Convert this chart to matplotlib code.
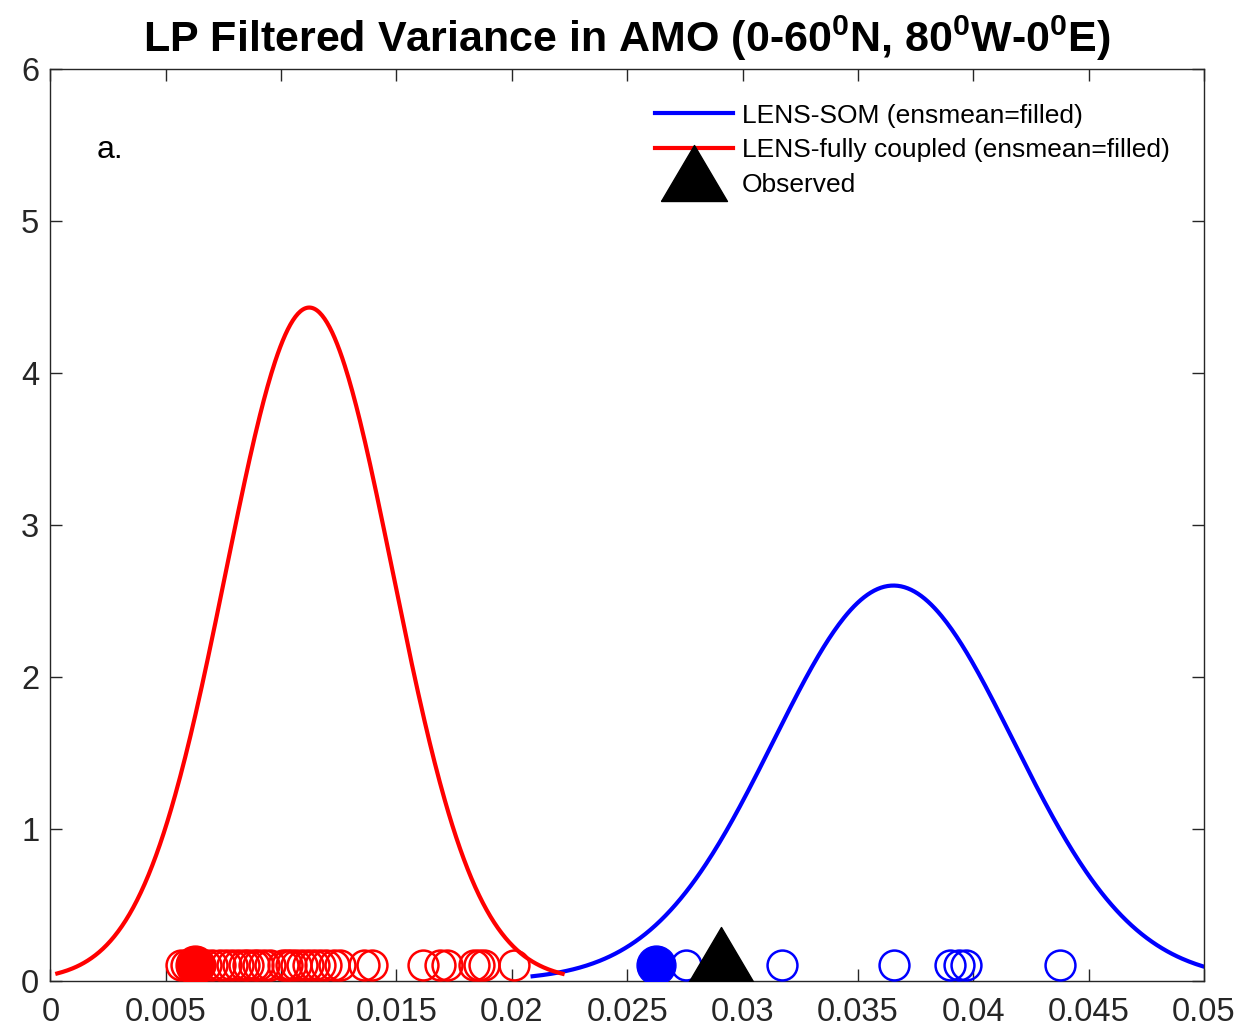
import numpy as np
import matplotlib
matplotlib.use("Agg")
import matplotlib.pyplot as plt
from matplotlib.lines import Line2D
from matplotlib.ticker import FormatStrFormatter

plt.rcParams['font.family'] = ['Liberation Sans', 'DejaVu Sans']
plt.rcParams['mathtext.fontset'] = 'custom'
plt.rcParams['mathtext.rm'] = 'Liberation Sans:bold'
plt.rcParams['mathtext.bf'] = 'Liberation Sans:bold'

# LP filtered AMO variance, one value per ensemble member
lens_cpl = [0.00566, 0.00588, 0.00648, 0.00674, 0.00700, 0.00735, 0.00761,
            0.00787, 0.00813, 0.00839, 0.00857, 0.00883, 0.00900, 0.00926,
            0.00952, 0.01008, 0.01026, 0.01043, 0.01065, 0.01091, 0.01117,
            0.01143, 0.01169, 0.01195, 0.01229, 0.01255, 0.01359, 0.01394,
            0.01615, 0.01689, 0.01719, 0.01836, 0.01858, 0.01880, 0.02010]
lens_cpl_mean = 0.00627
lens_som = [0.02753, 0.03170, 0.03655, 0.03900, 0.03937, 0.03970, 0.04374]
lens_som_mean = 0.02626
obs = 0.02906

# normal fits: centre, width, height and x-range of each curve
cpl_mu, cpl_sd, cpl_pk, cpl_rng = 0.01122, 0.00362, 4.43, (0.0003, 0.0222)
som_mu, som_sd, som_pk, som_rng = 0.03654, 0.00520, 2.60, (0.0209, 0.05)

y_dots = 0.1
dark = '#262626'


def fit_curve(mu, sd, pk, rng):
    x = np.linspace(rng[0], rng[1], 400)
    return x, pk * np.exp(-0.5 * ((x - mu) / sd) ** 2)


# triangle with its reference point a bit below the middle
tri = [(-33, -18), (33, -18), (0, 38), (-33, -18)]

fig = plt.figure(figsize=(12.41, 10.29), dpi=100)
ax = fig.add_axes([0.0406, 0.0471, 0.9296, 0.8858])

xs, ys = fit_curve(som_mu, som_sd, som_pk, som_rng)
ax.plot(xs, ys, c='b', lw=3, zorder=2)
xc, yc = fit_curve(cpl_mu, cpl_sd, cpl_pk, cpl_rng)
ax.plot(xc, yc, c='r', lw=3, zorder=2)

ax.plot(lens_cpl, [y_dots] * len(lens_cpl), 'o', mfc='none', mec='r', ms=21.5, mew=1.8, zorder=3)
ax.plot(lens_cpl_mean, y_dots, 'o', c='r', ms=28, zorder=3)
ax.plot(lens_som, [y_dots] * len(lens_som), 'o', mfc='none', mec='b', ms=21.5, mew=1.8, zorder=3)
ax.plot(lens_som_mean, y_dots, 'o', c='b', ms=28, zorder=3)
ax.plot(obs, y_dots, marker=tri, c='k', ms=54.7, ls='none', zorder=4)

ax.set_xlim(0, 0.05)
ax.set_ylim(0, 6)
ax.set_xticks(np.arange(0, 0.0501, 0.005))
ax.set_yticks(range(7))
ax.xaxis.set_major_formatter(FormatStrFormatter('%g'))
ax.tick_params(direction='in', length=8.5, width=1, colors=dark, labelsize=23.5,
               top=True, right=True)
ax.tick_params(axis='x', pad=12)
ax.tick_params(axis='y', pad=8)
for sp in ax.spines.values():
    sp.set_color(dark)
    sp.set_linewidth(1)

ax.text(0.002, 5.47, 'a.', fontsize=23, va='center')
ax.set_title(r'LP Filtered Variance in AMO (0-60$^{0}$N, 80$^{0}$W-0$^{0}$E)',
             fontsize=31, fontweight='bold', pad=12)

handles = [Line2D([], [], c='b', lw=3),
           Line2D([], [], c='r', lw=3),
           Line2D([], [], marker=tri, c='k', ms=54.7, ls='none')]
labels = ['LENS-SOM (ensmean=filled)', 'LENS-fully coupled (ensmean=filled)', 'Observed']
ax.legend(handles, labels, loc='upper left', bbox_to_anchor=(0.524, 0.962),
          frameon=False, fontsize=19, handlelength=2.95, handletextpad=0.34,
          labelspacing=0.4, borderpad=0, borderaxespad=0)

fig.savefig('out.png', dpi=100)
